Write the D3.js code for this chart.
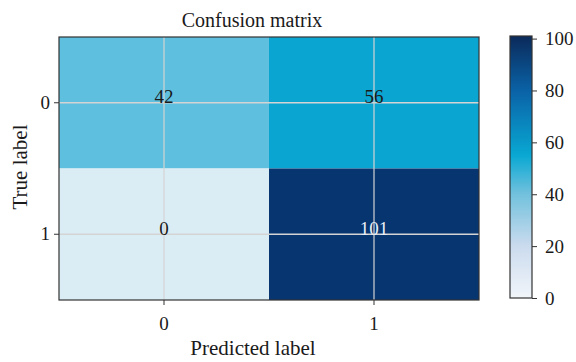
<!DOCTYPE html>
<html>
<head>
<meta charset="utf-8">
<script src="https://cdn.jsdelivr.net/npm/d3@7"></script>
<style>
  html, body { margin: 0; padding: 0; background: #fff; }
  svg text { font-family: "Liberation Serif", "DejaVu Serif", serif; fill: #1a1a1a; }
</style>
</head>
<body>
<svg id="chart" width="576" height="362"></svg>
<script>
// Confusion matrix counts: rows = true label, columns = predicted label
const trueLabels = ["0", "1"];
const predLabels = ["0", "1"];
const counts = [
  [42, 56],
  [0, 101]
];
const colorbarTicks = [0, 20, 40, 60, 80, 100];

const svg = d3.select("#chart");
const plot = { left: 59, top: 37, right: 479, bottom: 300 };

const x = d3.scaleBand().domain(predLabels).range([plot.left, plot.right]);
const y = d3.scaleBand().domain(trueLabels).range([plot.top, plot.bottom]);

// Colour ramp used by the cells
const cellColor = d3.scaleLinear()
  .domain([0, 42, 56, 101])
  .range(["#dbedf4", "#5ebfdf", "#0aa6d1", "#063570"])
  .clamp(true);

// Colour ramp used by the colour bar
const barColor = d3.scaleLinear()
  .domain([0, 20, 40, 55, 80, 101])
  .range(["#f1f5fa", "#cbdbee", "#72c1dd", "#09a8d3", "#0a62a6", "#0b2a5a"])
  .clamp(true);

const cells = [];
trueLabels.forEach((t, i) => predLabels.forEach((p, j) => cells.push({ t, p, v: counts[i][j] })));

svg.append("g").selectAll("rect").data(cells).join("rect")
  .attr("x", d => x(d.p))
  .attr("y", d => y(d.t))
  .attr("width", x.bandwidth())
  .attr("height", y.bandwidth())
  .attr("fill", d => cellColor(d.v));

// Grid lines at tick positions
const grid = svg.append("g").attr("stroke", "#d4d4d4");
grid.selectAll("line.v").data(predLabels).join("line").attr("class", "v")
  .attr("x1", d => x(d) + x.bandwidth() / 2).attr("x2", d => x(d) + x.bandwidth() / 2)
  .attr("y1", plot.top).attr("y2", plot.bottom).attr("stroke-width", 1.2);
grid.selectAll("line.h").data(trueLabels).join("line").attr("class", "h")
  .attr("y1", d => y(d) + y.bandwidth() / 2).attr("y2", d => y(d) + y.bandwidth() / 2)
  .attr("x1", plot.left).attr("x2", plot.right).attr("stroke-width", 1.5);

// Cell value labels
svg.append("g").selectAll("text").data(cells).join("text")
  .attr("x", d => x(d.p) + x.bandwidth() / 2)
  .attr("y", d => y(d.t) + y.bandwidth() / 2 + 0.5)
  .attr("text-anchor", "middle")
  .attr("font-size", 19)
  .style("fill", d => d.v > 70 ? "#e8eef6" : "#1a1a1a")
  .text(d => d.v);

// Frame
svg.append("rect")
  .attr("x", plot.left).attr("y", plot.top)
  .attr("width", plot.right - plot.left).attr("height", plot.bottom - plot.top)
  .attr("fill", "none").attr("stroke", "#333").attr("stroke-width", 1.2);

// Axes
const xAxis = svg.append("g").attr("transform", `translate(0,${plot.bottom})`)
  .call(d3.axisBottom(x).tickSize(5).tickPadding(8));
const yAxis = svg.append("g").attr("transform", `translate(${plot.left},0)`)
  .call(d3.axisLeft(y).tickSize(5).tickPadding(4));
[xAxis, yAxis].forEach(a => {
  a.select(".domain").remove();
  a.selectAll(".tick line").attr("stroke", "#333");
  a.selectAll(".tick text").attr("font-size", 19).style("fill", "#1a1a1a");
});
xAxis.selectAll(".tick text").attr("dy", "0.9em");

// Titles
svg.append("text").attr("x", 252).attr("y", 27).attr("text-anchor", "middle")
  .attr("font-size", 20).text("Confusion matrix");
svg.append("text").attr("x", 253).attr("y", 355).attr("text-anchor", "middle")
  .attr("font-size", 21).text("Predicted label");
svg.append("text").attr("transform", "translate(27,167) rotate(-90)").attr("text-anchor", "middle")
  .attr("font-size", 21).text("True label");

// Colour bar
const cb = { x: 510, w: 22, top: 36, bottom: 298 };
const cbScale = d3.scaleLinear().domain([0, 101]).range([cb.bottom, cb.top]);
const defs = svg.append("defs");
const grad = defs.append("linearGradient").attr("id", "cbgrad")
  .attr("x1", 0).attr("y1", 1).attr("x2", 0).attr("y2", 0);
d3.range(0, 102, 1).forEach(v => {
  grad.append("stop").attr("offset", v / 101).attr("stop-color", barColor(v));
});
svg.append("rect").attr("x", cb.x).attr("y", cb.top).attr("width", cb.w)
  .attr("height", cb.bottom - cb.top).attr("fill", "url(#cbgrad)")
  .attr("stroke", "#333").attr("stroke-width", 1.2);
const cbAxis = svg.append("g").attr("transform", `translate(${cb.x + cb.w},0)`)
  .call(d3.axisRight(cbScale).tickValues(colorbarTicks).tickSize(5).tickPadding(8));
cbAxis.select(".domain").remove();
cbAxis.selectAll(".tick line").attr("stroke", "#333");
cbAxis.selectAll(".tick text").attr("font-size", 19).style("fill", "#1a1a1a");
</script>
</body>
</html>
